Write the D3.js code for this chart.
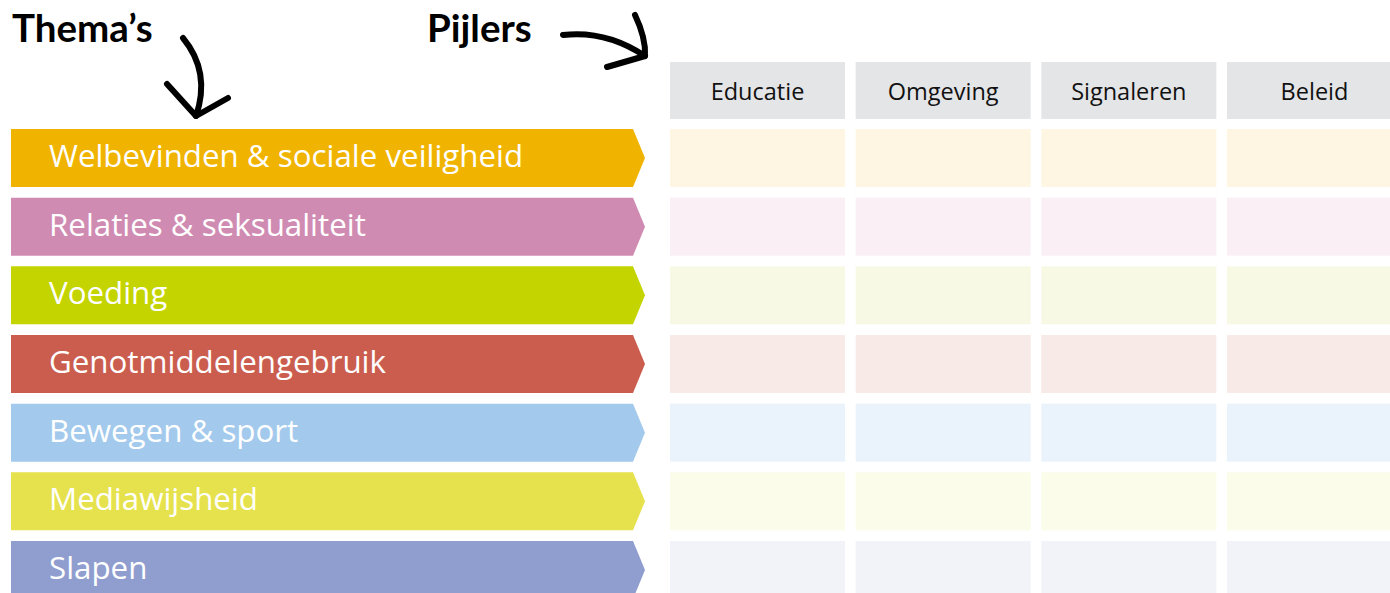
<!DOCTYPE html>
<html><head><meta charset="utf-8">
<script src="https://cdn.jsdelivr.net/npm/d3@7"></script>
<style>html,body{margin:0;padding:0;background:#fff;}svg{display:block;}</style>
</head><body>
<svg id="chart" width="1390" height="593"></svg>
<script>
const themes = ["Welbevinden & sociale veiligheid","Relaties & seksualiteit","Voeding","Genotmiddelengebruik","Bewegen & sport","Mediawijsheid","Slapen"];
const themeColors = ["#F0B400","#D08BB2","#C4D400","#CB5D4E","#A3CAEC","#E6E24D","#8F9DCF"];
const cellColors = ["#FEF6E3","#FAEFF5","#F7F9E4","#F7EAE7","#EAF3FB","#FBFCEA","#F2F3F8"];
const pillars = ["Educatie","Omgeving","Signaleren","Beleid"];
const titles = ["Thema\u2019s","Pijlers"];

const svg = d3.select("#chart");
const font = "'Open Sans', Lato, sans-serif";
const titleFont = "Lato, 'Open Sans', sans-serif";

const y = d3.scaleBand().domain(themes).range([129, 599]).paddingInner(0.155).paddingOuter(0);
const x = d3.scaleBand().domain(pillars).range([670, 1402]).paddingInner(0.0575).paddingOuter(0);
const color = d3.scaleOrdinal().domain(themes).range(themeColors);
const cellColor = d3.scaleOrdinal().domain(themes).range(cellColors);

// arrow-shaped theme bars
const left = 11, shoulder = 633, tip = 645;
svg.selectAll("path.theme").data(themes).join("path")
  .attr("class","theme")
  .attr("fill", d => color(d))
  .attr("d", d => {
    const t = y(d), h = y.bandwidth();
    return `M${left},${t}L${shoulder},${t}L${tip},${t+h/2}L${shoulder},${t+h}L${left},${t+h}Z`;
  });
svg.selectAll("text.theme").data(themes).join("text")
  .attr("class","theme")
  .attr("x", 49).attr("y", d => y(d) + 38)
  .attr("fill","#fff").attr("font-family", font).attr("font-size", 31.3).attr("font-weight", 400)
  .text(d => d);

// header cells
svg.selectAll("rect.head").data(pillars).join("rect")
  .attr("class","head")
  .attr("x", d => x(d)).attr("y", 62).attr("width", x.bandwidth()).attr("height", 57)
  .attr("fill","#E4E5E7");
svg.selectAll("text.head").data(pillars).join("text")
  .attr("class","head")
  .attr("x", d => x(d) + x.bandwidth()/2).attr("y", 100)
  .attr("text-anchor","middle").attr("fill","#111").attr("font-family", font).attr("font-size", 23.5).attr("font-weight", 400)
  .text(d => d);

// grid cells
const cells = themes.flatMap(t => pillars.map(p => ({t, p})));
svg.selectAll("rect.cell").data(cells).join("rect")
  .attr("class","cell")
  .attr("x", d => x(d.p)).attr("y", d => y(d.t))
  .attr("width", x.bandwidth()).attr("height", y.bandwidth())
  .attr("fill", d => cellColor(d.t));

// titles
svg.append("text").attr("x", 12).attr("y", 42).attr("font-family", titleFont).attr("font-weight", 700)
  .attr("font-size", 38.5).attr("fill","#000").text(titles[0]);
svg.append("text").attr("x", 427).attr("y", 42).attr("font-family", titleFont).attr("font-weight", 700)
  .attr("font-size", 38.5).attr("fill","#000").text(titles[1]);

// hand-drawn arrows
const stroke = g => g.attr("fill","none").attr("stroke","#000").attr("stroke-width",6)
  .attr("stroke-linecap","round").attr("stroke-linejoin","round");
svg.append("path").attr("d","M183,38 Q211,72 196,116").call(stroke);
svg.append("path").attr("d","M167,84 L196,116 L228,98").call(stroke);
svg.append("path").attr("d","M563,35 Q606,30 645,56").call(stroke);
svg.append("path").attr("d","M635,15 Q646,38 645,56 L607,67").call(stroke);
</script>
</body></html>
